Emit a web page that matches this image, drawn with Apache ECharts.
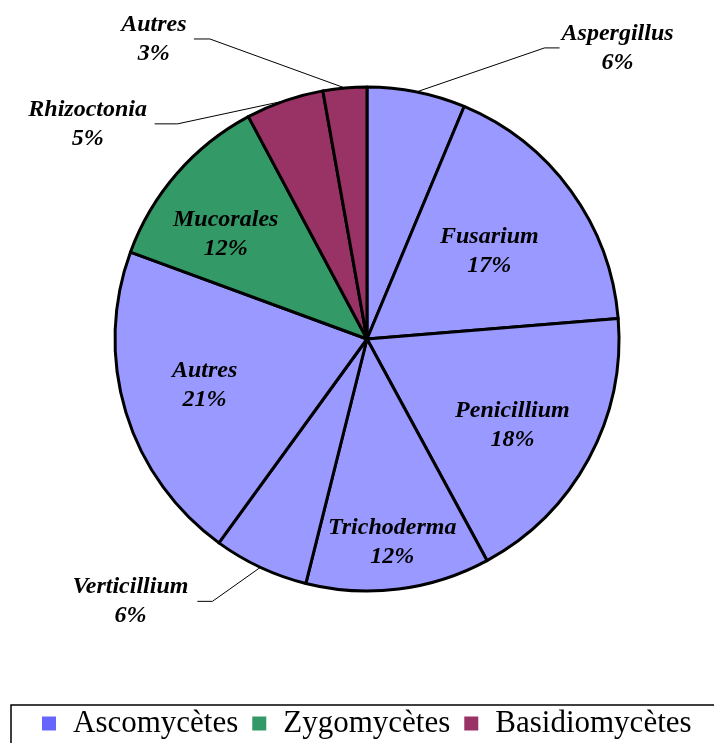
<!DOCTYPE html>
<html>
<head>
<meta charset="utf-8">
<script src="https://cdn.jsdelivr.net/npm/echarts@6/dist/echarts.min.js"></script>
<style>
  html, body { margin: 0; padding: 0; background: #fff; }
  #chart { width: 714px; height: 743px; }
</style>
</head>
<body>
<div id="chart"></div>
<script>
// data
var genres = ['Aspergillus', 'Fusarium', 'Penicillium', 'Trichoderma', 'Verticillium',
              'Autres', 'Mucorales', 'Rhizoctonia', 'Autres'];
var parts = [6.3, 17.4, 18.4, 11.8, 6.1, 20.6, 11.6, 5.0, 2.8];
var groupOf = [0, 0, 0, 0, 0, 0, 1, 2, 2];
var groups = ['Ascomycètes', 'Zygomycètes', 'Basidiomycètes'];

// styles
var sliceColors = ['#9999FF', '#339966', '#993366'];
var legendColors = ['#6666FF', '#339966', '#993366'];
var labelInside = [false, true, true, true, false, true, true, false, false];
// shift of the inside labels from their default spot
var insideShift = { 1: [18, -12], 2: [32, 25], 3: [9, 75], 5: [-39, 9], 6: [-44, -20] };
// leader lines of outside labels, relative to the slice edge point
var guides = {
  0: { bend: [128, -44], end: [143, -44], text: [201, -44] },
  4: { bend: [-48, 34], end: [-63, 34], text: [-130, 34] },
  7: { bend: [-107, 23], end: [-130, 23], text: [-197, 23] },
  8: { bend: [-135, -49], end: [-151, -49], text: [-191, -49] }
};

var labelFont = {
  fontFamily: 'Liberation Serif',
  fontWeight: 'bold',
  fontStyle: 'italic',
  fontSize: 24,
  lineHeight: 29,
  color: '#000'
};

var chart = echarts.init(document.getElementById('chart'));

var pieData = genres.map(function (name, i) {
  var item = {
    name: name,
    value: parts[i],
    itemStyle: { color: sliceColors[groupOf[i]] }
  };
  if (labelInside[i]) {
    item.label = { position: 'inside' };
    item.labelLine = { show: false };
  }
  return item;
});

var legendData = groups.map(function (g, i) {
  return { name: g, value: 0, itemStyle: { color: legendColors[i] } };
});

var option = {
  animation: false,
  backgroundColor: '#fff',
  legend: {
    data: groups,
    left: 42,
    top: 708,
    padding: 0,
    icon: 'rect',
    itemWidth: 14,
    itemHeight: 14,
    itemGap: 14,
    selectedMode: false,
    textStyle: {
      fontFamily: 'Liberation Serif',
      fontSize: 31,
      color: '#000',
      padding: [0, 0, 0, 12]
    }
  },
  graphic: [{
    type: 'rect',
    silent: true,
    shape: { x: 11, y: 705, width: 720, height: 60 },
    style: { fill: 'none', stroke: '#000', lineWidth: 1.5 }
  }],
  series: [
    {
      type: 'pie',
      center: [367, 339],
      radius: 252,
      startAngle: 90,
      clockwise: true,
      percentPrecision: 0,
      avoidLabelOverlap: false,
      data: pieData,
      itemStyle: { borderColor: '#000', borderWidth: 3 },
      label: Object.assign({
        show: true,
        position: 'outside',
        formatter: '{b}\n{d}%'
      }, labelFont),
      labelLine: {
        show: true,
        length: 20,
        length2: 15,
        lineStyle: { color: '#000', width: 1 }
      },
      emphasis: { disabled: true },
      labelLayout: function (params) {
        var i = params.dataIndex;
        if (insideShift[i]) {
          return { dx: insideShift[i][0], dy: insideShift[i][1] };
        }
        var g = guides[i];
        var p = params.labelLinePoints[0];
        return {
          x: p[0] + g.text[0],
          y: p[1] + g.text[1],
          align: 'center',
          verticalAlign: 'middle',
          labelLinePoints: [
            [p[0], p[1]],
            [p[0] + g.bend[0], p[1] + g.bend[1]],
            [p[0] + g.end[0], p[1] + g.end[1]]
          ]
        };
      }
    },
    {
      // only feeds the legend
      type: 'pie',
      center: [367, 339],
      radius: [0, 0],
      silent: true,
      label: { show: false },
      labelLine: { show: false },
      itemStyle: { borderWidth: 0 },
      data: legendData
    }
  ]
};

option && chart.setOption(option);
</script>
</body>
</html>
